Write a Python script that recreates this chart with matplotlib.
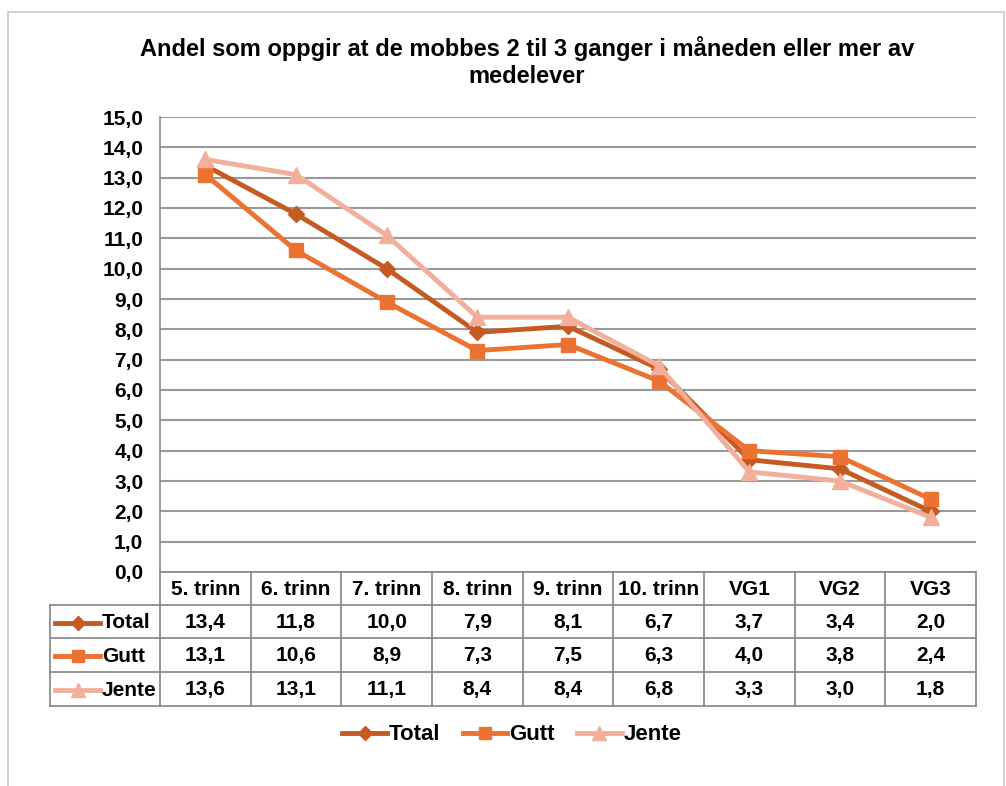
import matplotlib
matplotlib.use("Agg")
import matplotlib.pyplot as plt
from matplotlib.lines import Line2D
from matplotlib.patches import Rectangle

title = "Andel som oppgir at de mobbes 2 til 3 ganger i måneden eller mer av\nmedelever"
categories = ["5. trinn", "6. trinn", "7. trinn", "8. trinn", "9. trinn", "10. trinn", "VG1", "VG2", "VG3"]
series_names = ["Total", "Gutt", "Jente"]
total = [13.4, 11.8, 10.0, 7.9, 8.1, 6.7, 3.7, 3.4, 2.0]
gutt = [13.1, 10.6, 8.9, 7.3, 7.5, 6.3, 4.0, 3.8, 2.4]
jente = [13.6, 13.1, 11.1, 8.4, 8.4, 6.8, 3.3, 3.0, 1.8]
yticks = [i * 1.0 for i in range(16)]

series = [total, gutt, jente]
colors = ["#C55A22", "#EB7230", "#F2B09C"]
markers = ["D", "s", "^"]
msizes = [8, 10, 11]

plt.rcParams["font.family"] = ["Liberation Sans", "DejaVu Sans"]
W, H = 1006, 786
fig = plt.figure(figsize=(W / 100, H / 100), dpi=100)

def fx(x): return x / W
def fy(y): return 1 - y / H

# outer frame
fig.patches.append(Rectangle((fx(8), fy(790)), fx(1004 - 8), (790 - 12) / H,
                             transform=fig.transFigure, fill=False, ec="#C8C8C8", lw=1.2))

fig.text(fx(527), fy(62), title, ha="center", va="center", fontsize=17,
         fontweight="bold", linespacing=1.25)

L, R, T, B = 160, 976, 117, 572
ax = fig.add_axes([fx(L), fy(B), fx(R - L), (B - T) / H])
n = len(categories)
x = list(range(n))
ax.set_xlim(-0.5, n - 0.5)
ax.set_ylim(0, 15)
ax.set_yticks(yticks)
ax.set_yticklabels([f"{v:.1f}".replace(".", ",") for v in yticks], fontsize=15, fontweight="bold")
ax.tick_params(axis="y", length=0, pad=12)
ax.set_xticks([])
for s in ["top", "right", "bottom"]:
    ax.spines[s].set_visible(False)
ax.spines["left"].set_color("#8C8C8C")
ax.spines["left"].set_linewidth(1.2)
ax.grid(axis="y", color="#9A9A9A", lw=1.5)
ax.set_axisbelow(True)
for vals, c, m, ms in zip(series, colors, markers, msizes):
    ax.plot(x, vals, color=c, lw=3.5, marker=m, ms=ms, mec=c, mfc=c, clip_on=False, zorder=3)

# data table
rows_y = [572, 605, 638, 672, 706]
colw = (R - L) / n
tab_left = 50
lc = "#8C8C8C"
def hline(y, x0, x1):
    fig.add_artist(Line2D([fx(x0), fx(x1)], [fy(y), fy(y)], color=lc, lw=1.3))
def vline(xx, y0, y1):
    fig.add_artist(Line2D([fx(xx), fx(xx)], [fy(y0), fy(y1)], color=lc, lw=1.3))

hline(rows_y[0], L, R)
for y in rows_y[1:]:
    hline(y, tab_left, R)
vline(tab_left, rows_y[1], rows_y[-1])
for i in range(n + 1):
    vline(L + i * colw, rows_y[0], rows_y[-1])

for i, c in enumerate(categories):
    fig.text(fx(L + (i + 0.5) * colw), fy((rows_y[0] + rows_y[1]) / 2 + 1), c,
             ha="center", va="center", fontsize=15, fontweight="bold")
for r, (name, vals, c, m, ms) in enumerate(zip(series_names, series, colors, markers, msizes)):
    yc = fy((rows_y[r + 1] + rows_y[r + 2]) / 2 + 1)
    fig.add_artist(Line2D([fx(55), fx(100)], [yc, yc], color=c, lw=3.5))
    fig.add_artist(Line2D([fx(77.5)], [yc], color=c, marker=m, ms=ms - 1, mec=c, mfc=c))
    fig.text(fx(102), yc, name, ha="left", va="center", fontsize=15, fontweight="bold")
    for i, v in enumerate(vals):
        fig.text(fx(L + (i + 0.5) * colw), yc, f"{v:.1f}".replace(".", ","),
                 ha="center", va="center", fontsize=15, fontweight="bold")

# legend
handles = [Line2D([], [], color=c, lw=3.5, marker=m, ms=ms - 1, mec=c, mfc=c)
           for c, m, ms in zip(colors, markers, msizes)]
fig.legend(handles, series_names, loc="center", bbox_to_anchor=(fx(512), fy(735)),
           ncol=3, frameon=False, prop={"size": 16, "weight": "bold"},
           handlelength=2.0, columnspacing=1.0, handletextpad=0.1)

fig.savefig("out.png", dpi=100, facecolor="white")
